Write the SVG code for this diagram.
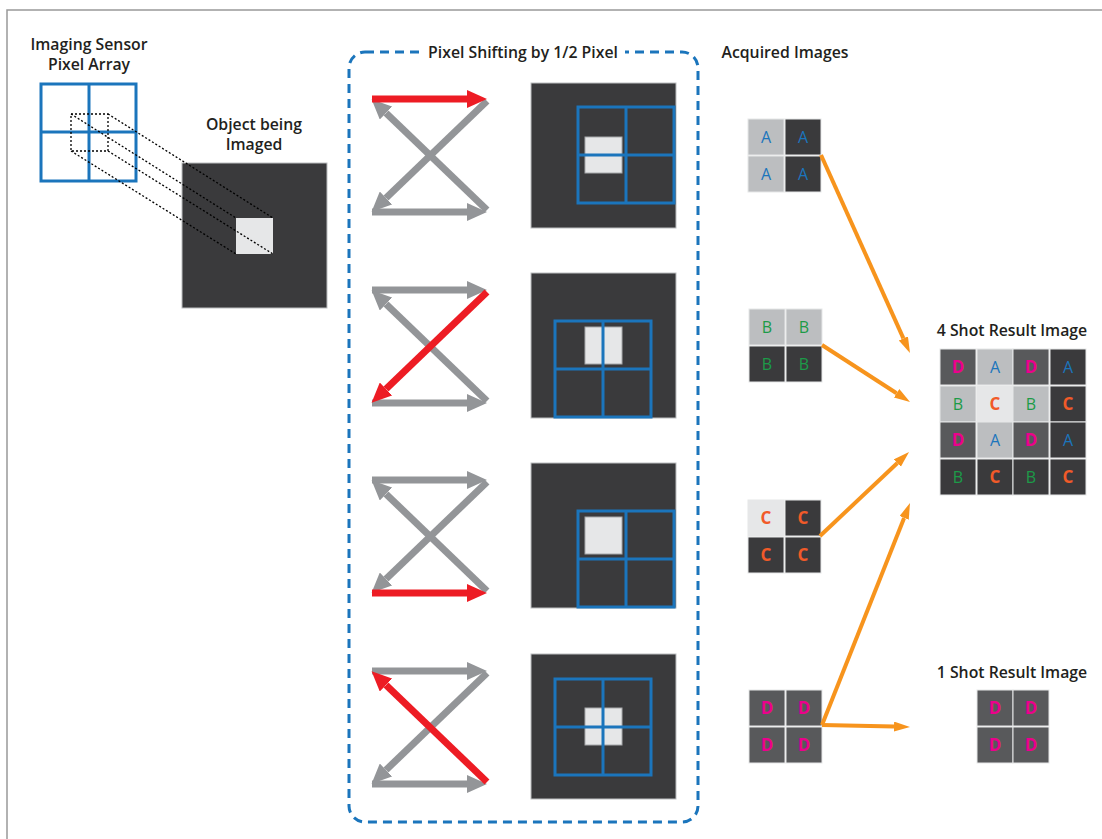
<svg xmlns="http://www.w3.org/2000/svg" width="1102" height="839" viewBox="0 0 1102 839">
<style>
.lbl{font-family:"Open Sans","Liberation Sans",sans-serif;font-weight:600;font-size:15.8px;fill:#231f20;text-anchor:middle}
.dark{fill:#3a3a3c}
.mid{fill:#58595b}
.lt{fill:#bcbec0}
.vlt{fill:#e6e7e8}
.cell{stroke:#e6e7e8;stroke-width:1}
.obj{fill:#3a3a3c;stroke:#bcbec0;stroke-width:1}
.wsq{fill:#e6e7e8;stroke:#a7a9ac;stroke-width:1}
.grid{fill:none;stroke:#1b75bc;stroke-width:3}
.ga{stroke:#939598;stroke-width:7;fill:none;marker-end:url(#hg)}
.ra{stroke:#ed1c24;stroke-width:7;fill:none;marker-end:url(#hr)}
.oa{stroke:#f7941d;stroke-width:4;fill:none;marker-end:url(#ho)}
.dot{stroke:#000;stroke-width:1.3;stroke-dasharray:2 2;fill:none}
.tA{font-family:"Open Sans","Liberation Sans",sans-serif;font-size:16px;fill:#1b75bc;text-anchor:middle}
.tB{font-family:"Open Sans","Liberation Sans",sans-serif;font-size:16px;fill:#1c9b48;text-anchor:middle}
.tC{font-family:"Open Sans","Liberation Sans",sans-serif;font-weight:700;font-size:17px;fill:#f15a29;text-anchor:middle}
.tD{font-family:"Open Sans","Liberation Sans",sans-serif;font-weight:700;font-size:17px;fill:#ec008c;text-anchor:middle}
</style>
<defs>
<marker id="hg" markerUnits="userSpaceOnUse" markerWidth="22" markerHeight="18" refX="0" refY="9" orient="auto"><path d="M0,0 L20,9 L0,18 z" fill="#939598"/></marker>
<marker id="hr" markerUnits="userSpaceOnUse" markerWidth="22" markerHeight="18" refX="0" refY="9" orient="auto"><path d="M0,0 L20,9 L0,18 z" fill="#ed1c24"/></marker>
<marker id="ho" markerUnits="userSpaceOnUse" markerWidth="18" markerHeight="12" refX="0" refY="5" orient="auto"><path d="M0,0 L16,5 L0,10 z" fill="#f7941d"/></marker>
</defs>
<rect width="1102" height="839" fill="#fff"/>
<path d="M7,839 V10 H1102" fill="none" stroke="#999" stroke-width="1.5"/>

<g id="sensor">
<text class="lbl" x="89" y="50">Imaging Sensor</text>
<text class="lbl" x="89" y="70">Pixel Array</text>
<rect class="grid" x="41" y="84" width="95" height="97"/>
<line class="grid" x1="89" y1="84" x2="89" y2="181"/>
<line class="grid" x1="41" y1="132" x2="136" y2="132"/>
<rect class="dot" x="71" y="114" width="37" height="37"/>
</g>

<g id="object">
<text class="lbl" x="254" y="130">Object being</text>
<text class="lbl" x="254" y="150">Imaged</text>
<rect class="obj" x="182" y="163" width="145" height="145"/>
<rect x="236" y="218" width="37" height="36" fill="#e6e7e8"/>
</g>

<g id="projection">
<line class="dot" x1="108" y1="114" x2="273" y2="218"/>
<line class="dot" x1="71" y1="114" x2="236" y2="218"/>
<line class="dot" x1="71" y1="151" x2="236" y2="254"/>
<line class="dot" x1="108" y1="151" x2="273" y2="254"/>
</g>

<g id="shift-frame">
<rect x="349" y="52" width="349" height="770" rx="16" fill="none" stroke="#1b75bc" stroke-width="3" stroke-dasharray="9 6"/>
<rect x="421" y="42" width="204" height="20" fill="#fff"/>
<text class="lbl" x="523" y="58">Pixel Shifting by 1/2 Pixel</text>
</g>

<g id="panel1">
<line class="ga" x1="487" y1="101" x2="386" y2="198"/>
<line class="ga" x1="372" y1="212" x2="467" y2="212"/>
<line class="ga" x1="487" y1="210" x2="386" y2="113"/>
<line class="ra" x1="372" y1="99" x2="467" y2="99"/>
<rect class="obj" x="531" y="83" width="145" height="145"/>
<rect class="wsq" x="585" y="137" width="37" height="36"/>
<rect class="grid" x="578" y="107" width="96" height="96"/>
<line class="grid" x1="626" y1="107" x2="626" y2="203"/>
<line class="grid" x1="578" y1="155" x2="674" y2="155"/>
</g>

<g id="panel2">
<line class="ga" x1="372" y1="290" x2="467" y2="290"/>
<line class="ga" x1="487" y1="401" x2="386" y2="304"/>
<line class="ga" x1="372" y1="403" x2="467" y2="403"/>
<line class="ra" x1="487" y1="292" x2="386" y2="389"/>
<rect class="obj" x="531" y="273" width="145" height="145"/>
<rect class="wsq" x="585" y="327" width="37" height="37"/>
<rect class="grid" x="555" y="321" width="96" height="96"/>
<line class="grid" x1="603" y1="321" x2="603" y2="417"/>
<line class="grid" x1="555" y1="369" x2="651" y2="369"/>
</g>

<g id="panel3">
<line class="ga" x1="372" y1="480" x2="467" y2="480"/>
<line class="ga" x1="487" y1="482" x2="386" y2="579"/>
<line class="ga" x1="487" y1="591" x2="386" y2="494"/>
<line class="ra" x1="372" y1="593" x2="467" y2="593"/>
<rect class="obj" x="531" y="463" width="145" height="145"/>
<rect class="wsq" x="585" y="517" width="37" height="37"/>
<rect class="grid" x="578" y="511" width="96" height="96"/>
<line class="grid" x1="626" y1="511" x2="626" y2="607"/>
<line class="grid" x1="578" y1="559" x2="674" y2="559"/>
</g>

<g id="panel4">
<line class="ga" x1="372" y1="671" x2="467" y2="671"/>
<line class="ga" x1="487" y1="673" x2="386" y2="770"/>
<line class="ga" x1="372" y1="784" x2="467" y2="784"/>
<line class="ra" x1="487" y1="782" x2="386" y2="685"/>
<rect class="obj" x="531" y="654" width="145" height="145"/>
<rect class="wsq" x="585" y="708" width="37" height="37"/>
<rect class="grid" x="555" y="679" width="96" height="96"/>
<line class="grid" x1="603" y1="679" x2="603" y2="775"/>
<line class="grid" x1="555" y1="727" x2="651" y2="727"/>
</g>

<text class="lbl" x="785" y="58" id="acq-title">Acquired Images</text>

<g id="acqA">
<rect class="lt cell" x="748" y="119" width="36" height="36"/>
<rect class="dark cell" x="785" y="119" width="36" height="36"/>
<rect class="lt cell" x="748" y="156" width="36" height="36"/>
<rect class="dark cell" x="785" y="156" width="36" height="36"/>
<text class="tA" x="766" y="143">A</text><text class="tA" x="803" y="143">A</text>
<text class="tA" x="766" y="180">A</text><text class="tA" x="803" y="180">A</text>
</g>

<g id="acqB">
<rect class="lt cell" x="749" y="309" width="36" height="36"/>
<rect class="lt cell" x="786" y="309" width="36" height="36"/>
<rect class="dark cell" x="749" y="346" width="36" height="36"/>
<rect class="dark cell" x="786" y="346" width="36" height="36"/>
<text class="tB" x="767" y="333">B</text><text class="tB" x="804" y="333">B</text>
<text class="tB" x="767" y="370">B</text><text class="tB" x="804" y="370">B</text>
</g>

<g id="acqC">
<rect class="vlt cell" x="748" y="500" width="36" height="36"/>
<rect class="dark cell" x="785" y="500" width="36" height="36"/>
<rect class="dark cell" x="748" y="537" width="36" height="36"/>
<rect class="dark cell" x="785" y="537" width="36" height="36"/>
<text class="tC" x="766" y="524">C</text><text class="tC" x="803" y="524">C</text>
<text class="tC" x="766" y="561">C</text><text class="tC" x="803" y="561">C</text>
</g>

<g id="acqD">
<rect class="mid cell" x="749" y="690" width="36" height="36"/>
<rect class="mid cell" x="786" y="690" width="36" height="36"/>
<rect class="mid cell" x="749" y="727" width="36" height="36"/>
<rect class="mid cell" x="786" y="727" width="36" height="36"/>
<text class="tD" x="767" y="714">D</text><text class="tD" x="804" y="714">D</text>
<text class="tD" x="767" y="751">D</text><text class="tD" x="804" y="751">D</text>
</g>

<g id="result4">
<text class="lbl" x="1012" y="336">4 Shot Result Image</text>
<rect class="mid cell" x="940" y="349" width="36" height="36"/>
<rect class="lt cell" x="977" y="349" width="36" height="36"/>
<rect class="mid cell" x="1013" y="349" width="36" height="36"/>
<rect class="dark cell" x="1050" y="349" width="36" height="36"/>
<rect class="lt cell" x="940" y="386" width="36" height="36"/>
<rect class="vlt cell" x="977" y="386" width="36" height="36"/>
<rect class="lt cell" x="1013" y="386" width="36" height="36"/>
<rect class="dark cell" x="1050" y="386" width="36" height="36"/>
<rect class="mid cell" x="940" y="422" width="36" height="36"/>
<rect class="lt cell" x="977" y="422" width="36" height="36"/>
<rect class="mid cell" x="1013" y="422" width="36" height="36"/>
<rect class="dark cell" x="1050" y="422" width="36" height="36"/>
<rect class="dark cell" x="940" y="459" width="36" height="36"/>
<rect class="dark cell" x="977" y="459" width="36" height="36"/>
<rect class="dark cell" x="1013" y="459" width="36" height="36"/>
<rect class="dark cell" x="1050" y="459" width="36" height="36"/>
<text class="tD" x="958" y="373">D</text><text class="tA" x="995" y="373">A</text><text class="tD" x="1031" y="373">D</text><text class="tA" x="1068" y="373">A</text>
<text class="tB" x="958" y="410">B</text><text class="tC" x="995" y="410">C</text><text class="tB" x="1031" y="410">B</text><text class="tC" x="1068" y="410">C</text>
<text class="tD" x="958" y="446">D</text><text class="tA" x="995" y="446">A</text><text class="tD" x="1031" y="446">D</text><text class="tA" x="1068" y="446">A</text>
<text class="tB" x="958" y="483">B</text><text class="tC" x="995" y="483">C</text><text class="tB" x="1031" y="483">B</text><text class="tC" x="1068" y="483">C</text>
</g>

<g id="result1">
<text class="lbl" x="1012" y="678">1 Shot Result Image</text>
<rect class="mid cell" x="977" y="690" width="36" height="36"/>
<rect class="mid cell" x="1013" y="690" width="36" height="36"/>
<rect class="mid cell" x="977" y="727" width="36" height="36"/>
<rect class="mid cell" x="1013" y="727" width="36" height="36"/>
<text class="tD" x="995" y="714">D</text><text class="tD" x="1031" y="714">D</text>
<text class="tD" x="995" y="751">D</text><text class="tD" x="1031" y="751">D</text>
</g>

<g id="connectors">
<line class="oa" x1="821" y1="155" x2="903.4" y2="338.4"/>
<line class="oa" x1="822" y1="345" x2="896.6" y2="393.3"/>
<line class="oa" x1="820" y1="536" x2="897.4" y2="463"/>
<line class="oa" x1="822" y1="725" x2="904.1" y2="517.9"/>
<line class="oa" x1="822" y1="725" x2="894" y2="726.6"/>
</g>
</svg>
